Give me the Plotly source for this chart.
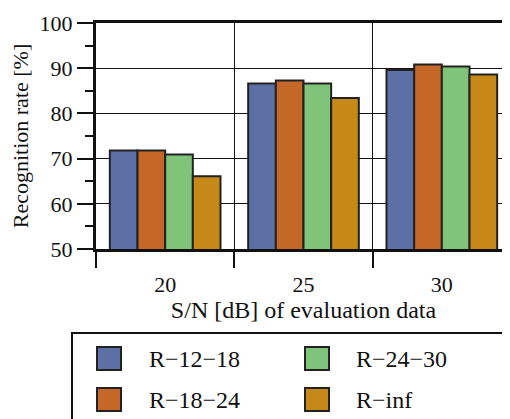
import plotly.graph_objects as go

categories = ["20", "25", "30"]
series_names = ["R\u221212\u221218", "R\u221218\u221224", "R\u221224\u221230", "R\u2212inf"]
r_12_18 = [71.8, 86.6, 89.6]
r_18_24 = [71.8, 87.3, 90.8]
r_24_30 = [70.9, 86.6, 90.4]
r_inf = [66.1, 83.4, 88.6]
colors = ["#5C70A6", "#C56726", "#80C47A", "#C68816"]
y_ticks = [50, 60, 70, 80, 90, 100]

OFF = 8  # page body margin
W, H = 510, 419
# plot area in window pixels: x 96..511, y 23..249
L, T = 96 - OFF, 23 - OFF
R = (W + 0) - (511 - OFF)
B = H - (249 - OFF)
pw, ph = W - L - R, H - T - B

def px(x):
    return (x - OFF - L) / pw

def py(y):
    return (H - B - (y - OFF)) / ph

FONT = "Liberation Serif, Times New Roman, serif"
fig = go.Figure()
for name, vals, c in zip(series_names, [r_12_18, r_18_24, r_24_30, r_inf], colors):
    fig.add_trace(go.Bar(x=categories, y=vals, name=name, marker=dict(color=c, line=dict(color="#222222", width=2)),
                         showlegend=False))

# custom legend
shapes = [dict(type="rect", xref="paper", yref="paper", x0=px(72), x1=px(540), y0=py(333), y1=py(450),
               line=dict(color="#111", width=2), fillcolor="rgba(0,0,0,0)", layer="above")]
annotations = []
pos = [(97, 347, 150), (97, 388, 150), (305, 347, 357), (305, 388, 357)]
for (sx, sy, tx), name, c in zip(pos, series_names, colors):
    shapes.append(dict(type="rect", xref="paper", yref="paper", x0=px(sx), x1=px(sx + 24), y0=py(sy), y1=py(sy + 23),
                       line=dict(color="#222", width=2), fillcolor=c))
    annotations.append(dict(xref="paper", yref="paper", x=px(tx - 3), y=py(sy + 12), text=name, showarrow=False,
                            xanchor="left", yanchor="middle", font=dict(family=FONT, size=24, color="#111")))

fig.update_layout(
    width=W, height=H, margin=dict(l=L, r=R, t=T, b=B, autoexpand=False),
    paper_bgcolor="white", plot_bgcolor="white",
    barmode="group", bargap=0.2, bargroupgap=0,
    font=dict(family=FONT, size=22, color="#111"),
    shapes=shapes, annotations=annotations,
    xaxis=dict(type="category", range=[-0.5, 2.5], tickson="boundaries", ticks="outside", ticklen=16,
               tickwidth=1.5, tickcolor="#111", showgrid=True, gridcolor="#111", gridwidth=1,
               showline=True, linecolor="#111", linewidth=3, mirror=True, ticklabelstandoff=14,
               tickfont=dict(family=FONT, size=22, color="#111"),
               title=dict(text="S/N [dB] of evaluation data", font=dict(family=FONT, size=24, color="#111"), standoff=4)),
    yaxis=dict(range=[50, 100], tickvals=y_ticks, ticks="outside", ticklen=16, tickwidth=1.5, tickcolor="#111",
               showgrid=True, gridcolor="#111", gridwidth=1, zeroline=False,
               showline=True, linecolor="#111", linewidth=3,
               minor=dict(dtick=5, ticks="outside", ticklen=8, tickwidth=1.5, tickcolor="#111", showgrid=False),
               tickfont=dict(family=FONT, size=22, color="#111"),
               title=dict(text="Recognition rate [%]", font=dict(family=FONT, size=22, color="#111"), standoff=6)),
)
fig.write_html("out.html")
